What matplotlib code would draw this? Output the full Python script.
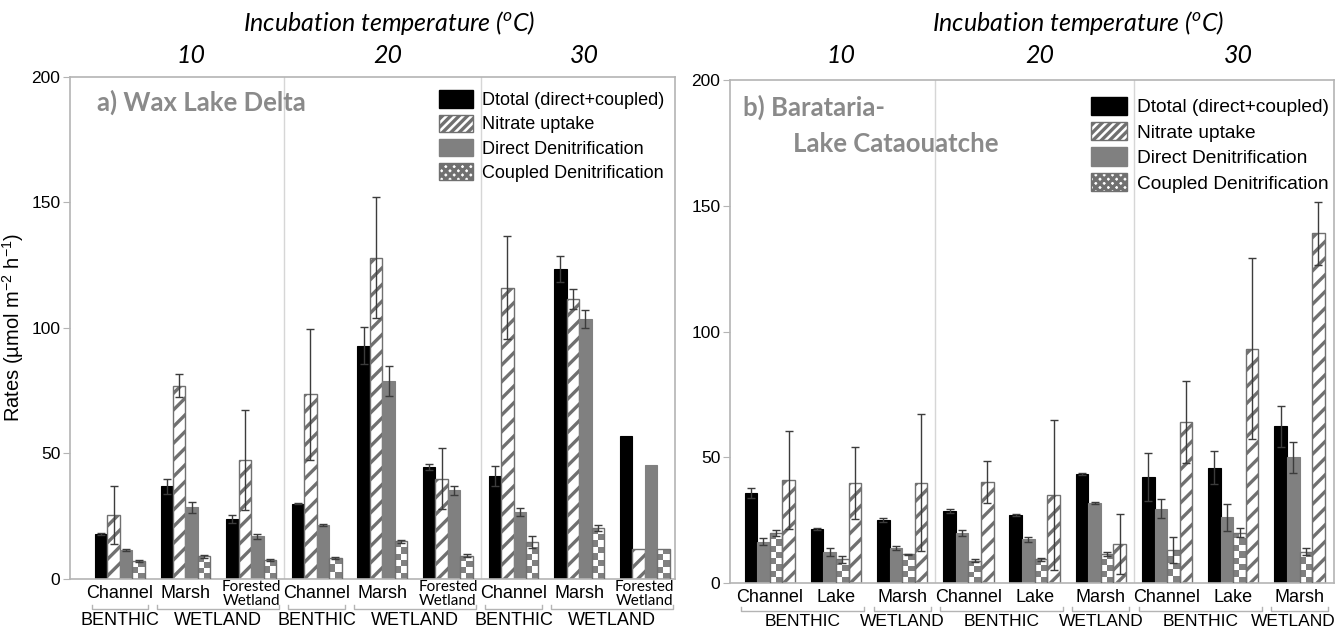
import numpy as np
import matplotlib
matplotlib.use("Agg")
import matplotlib.pyplot as plt
from matplotlib.patches import Patch
from matplotlib.transforms import blended_transform_factory

plt.rcParams["font.family"] = ["Liberation Sans", "DejaVu Sans"]
plt.rcParams["mathtext.fontset"] = "custom"
plt.rcParams["mathtext.rm"] = "Liberation Sans"
plt.rcParams["hatch.linewidth"] = 2.4
plt.rcParams["hatch.color"] = "#707070"

# ---- data ----
temps = ["10", "20", "30"]

# a) Wax Lake Delta: sites repeat for each temperature
wax_sites = ["Channel", "Marsh", "Forested\nWetland"]
wax_dtotal = [18, 37, 24, 30, 93, 44.5, 41, 123.5, 57]
wax_dtotal_err = [0.4, 3, 1.6, 0.3, 7.5, 1.2, 4, 5.2, 0]
wax_nitrate = [25.5, 77, 47.5, 73.5, 128, 40, 116, 111.5, 12]
wax_nitrate_err = [11.5, 4.5, 20, 26, 24, 12, 20.5, 4, 0]
wax_direct = [11.5, 28.5, 17, 21.5, 79, 35.3, 26.5, 103.5, 45.5]
wax_direct_err = [0.3, 2.3, 0.9, 0.3, 6, 1.8, 1.6, 3.7, 0]
wax_coupled = [7, 9, 7.5, 8.5, 15, 9.3, 14.8, 20.5, 12]
wax_coupled_err = [0.4, 0.5, 0.5, 0.4, 0.5, 0.5, 2.5, 1.2, 0]

# b) Barataria - Lake Cataouatche
bar_sites = ["Channel", "Lake", "Marsh"]
bar_dtotal = [35.7, 21.4, 25.2, 28.8, 27, 43.4, 42.3, 45.8, 62.3]
bar_dtotal_err = [2, 0.4, 0.8, 0.8, 0.4, 0.3, 9.5, 6.5, 8.2]
bar_direct = [16.4, 12.4, 14, 19.9, 17.4, 31.8, 29.5, 26.1, 50]
bar_direct_err = [1.4, 1.7, 0.8, 1.2, 0.9, 0.3, 3.8, 5.3, 6.2]
bar_coupled = [19.8, 9.4, 11.4, 8.9, 9.4, 11.7, 13.2, 20, 12.5]
bar_coupled_err = [1.3, 1.5, 0.3, 0.6, 0.5, 0.8, 5.2, 1.7, 1.4]
bar_nitrate = [40.8, 39.8, 39.9, 40.3, 34.9, 15.5, 64.1, 93.2, 139]
bar_nitrate_err = [19.5, 14.2, 27.3, 8.4, 29.9, 12.1, 16.4, 36, 12.4]

legend_labels = ["Dtotal (direct+coupled)", "Nitrate uptake",
                 "Direct Denitrification", "Coupled Denitrification"]

GRAY = "#808080"
EDGE = "#707070"
FRAME = "#b4b4b4"
TITLE_GRAY = "#8a8a8a"
W = 0.19

fig = plt.figure(figsize=(13.36, 6.3), dpi=100)
ax_a = fig.add_axes([0.0524, 0.0810, 0.4528, 0.7968])
ax_b = fig.add_axes([0.5464, 0.0746, 0.4521, 0.7984])


def draw_series(ax, x, vals, errs, kind):
    if kind == "dtotal":
        bars = ax.bar(x, vals, W, color="black", edgecolor="black", lw=0.8, zorder=2)
    elif kind == "direct":
        bars = ax.bar(x, vals, W, color=GRAY, edgecolor=GRAY, lw=0.8, zorder=2)
    elif kind == "nitrate":
        bars = ax.bar(x, vals, W, facecolor="white", edgecolor=EDGE, hatch="//",
                      lw=1.0, zorder=2)
    else:
        bars = ax.bar(x, vals, W, facecolor="none", edgecolor=EDGE, lw=1.0, zorder=3)
        px_per_unit = ax.get_position().height * fig.get_figheight() * fig.dpi / 200
        cell = 6.2 / px_per_unit
        for b in bars:
            h = b.get_height()
            nrows = max(1, int(round(h / cell)))
            board = np.indices((nrows, 2)).sum(axis=0) % 2
            im = ax.imshow(board, cmap=matplotlib.colors.ListedColormap(["white", GRAY]),
                           extent=[b.get_x(), b.get_x() + b.get_width(), 0, h],
                           aspect="auto", interpolation="nearest", origin="lower",
                           zorder=2)
            im.set_clip_path(b)
    errs = np.asarray(errs)
    keep = errs > 0
    ax.errorbar(np.asarray(x)[keep], np.asarray(vals)[keep], yerr=errs[keep],
                fmt="none", ecolor="#3c3c3c", elinewidth=1.0, capsize=3,
                capthick=1.0, zorder=4)


def style_axes(ax, xlim):
    ax.set_xlim(*xlim)
    ax.set_ylim(0, 200)
    ax.set_yticks([0, 50, 100, 150, 200])
    ax.tick_params(axis="y", length=5, color=FRAME, labelsize=12.5, pad=2)
    ax.set_xticks([])
    for s in ax.spines.values():
        s.set_color(FRAME)
        s.set_linewidth(1.2)
    for xs in (2.5, 5.5):
        ax.axvline(xs, color="#d6d6d6", lw=1, zorder=1)


def site_labels(ax, sites, groups, forested_small, offs, grp_fs):
    tr = blended_transform_factory(ax.transData, ax.transAxes)
    h_px = ax.get_position().height * fig.get_figheight() * fig.dpi
    y_site, y_br, y_grp = offs
    for t in range(3):
        for j, name in enumerate(sites):
            xc = t * 3 + j
            if forested_small and "\n" in name:
                ax.text(xc, -y_site / h_px, name, transform=tr, ha="center",
                        va="center", fontsize=11, family=["Lato", "DejaVu Sans"],
                        linespacing=1.05)
            else:
                ax.text(xc, -y_site / h_px, name, transform=tr, ha="center",
                        va="center", fontsize=13)
        for gname, j0, j1 in groups:
            x0 = t * 3 + j0 - 0.43
            x1 = t * 3 + j1 + 0.43
            ax.plot([x0, x0, x1, x1],
                    [-(y_br - 4) / h_px, -y_br / h_px, -y_br / h_px, -(y_br - 4) / h_px],
                    transform=tr, color=FRAME, lw=1, clip_on=False)
            ax.text(min((x0 + x1) / 2, ax.get_xlim()[1] - 0.62), -y_grp / h_px, gname,
                    transform=tr, ha="center", va="center", fontsize=grp_fs)


# ---- panel a ----
x = np.arange(9)
draw_series(ax_a, x - 1.5 * W, wax_dtotal, wax_dtotal_err, "dtotal")
draw_series(ax_a, x - 0.5 * W, wax_nitrate, wax_nitrate_err, "nitrate")
draw_series(ax_a, x + 0.5 * W, wax_direct, wax_direct_err, "direct")
draw_series(ax_a, x + 1.5 * W, wax_coupled, wax_coupled_err, "coupled")
style_axes(ax_a, (-0.76, 8.46))
site_labels(ax_a, wax_sites, [("BENTHIC", 0, 0), ("WETLAND", 1, 2)], True,
            (15, 30, 42), 13)
ax_a.set_ylabel(r"Rates (µmol m$^{\mathregular{-2}}$ h$^{\mathregular{-1}}$)",
                fontsize=14.5, labelpad=4)
ax_a.text(0.045, 0.95, "a) Wax Lake Delta", transform=ax_a.transAxes, ha="left",
          va="center", fontsize=18.5, fontweight="bold", color=TITLE_GRAY,
          family=["Lato", "DejaVu Sans"])

# ---- panel b ----
draw_series(ax_b, x - 1.5 * W, bar_dtotal, bar_dtotal_err, "dtotal")
draw_series(ax_b, x - 0.5 * W, bar_direct, bar_direct_err, "direct")
draw_series(ax_b, x + 0.5 * W, bar_coupled, bar_coupled_err, "coupled")
draw_series(ax_b, x + 1.5 * W, bar_nitrate, bar_nitrate_err, "nitrate")
style_axes(ax_b, (-0.6, 8.52))
site_labels(ax_b, bar_sites, [("BENTHIC", 0, 1), ("WETLAND", 2, 2)], False,
            (14, 28, 38), 12.5)
ax_b.text(0.022, 0.945, "b) Barataria-", transform=ax_b.transAxes, ha="left",
          va="center", fontsize=18.5, fontweight="bold", color=TITLE_GRAY,
          family=["Lato", "DejaVu Sans"])
ax_b.text(0.105, 0.872, "Lake Cataouatche", transform=ax_b.transAxes, ha="left",
          va="center", fontsize=18.5, fontweight="bold", color=TITLE_GRAY,
          family=["Lato", "DejaVu Sans"])

# ---- legends ----
handles = [
    Patch(facecolor="black", edgecolor="black"),
    Patch(facecolor="white", edgecolor=EDGE, hatch="////"),
    Patch(facecolor=GRAY, edgecolor=GRAY),
    Patch(facecolor="white", edgecolor=EDGE, hatch="xxxx"),
]
for ax, anchor, fs in ((ax_a, (1.0, 0.995), 13), (ax_b, (1.01, 0.99), 13.8)):
    ax.legend(handles, legend_labels, loc="upper right", bbox_to_anchor=anchor,
              frameon=False, fontsize=fs, handlelength=1.9, handleheight=1.1,
              handletextpad=0.5, labelspacing=0.3, borderaxespad=0.2)

# ---- temperature headers ----
ital = dict(family=["Lato", "DejaVu Sans"], style="italic", ha="center", va="center")
for ax, cx in ((ax_a, 0.291), (ax_b, 0.807)):
    fig.text(cx, 0.963, r"Incubation temperature ($^{\mathregular{o}}$C)",
             fontsize=18, **ital)
    tr = blended_transform_factory(ax.transData, fig.transFigure)
    for t, lab in enumerate(temps):
        fig.text(t * 3 + 1.08, 0.912, lab, transform=tr, fontsize=18, **ital)

fig.savefig("out.png", dpi=100)
